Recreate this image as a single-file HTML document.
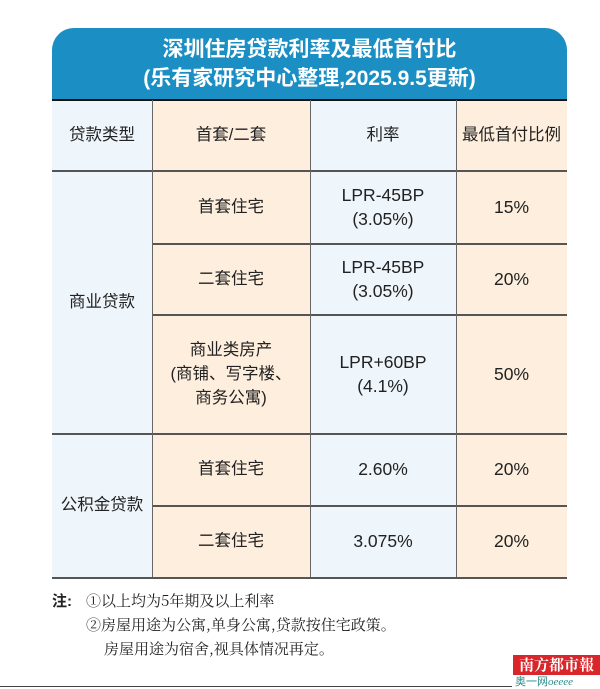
<!DOCTYPE html>
<html><head><meta charset="utf-8"><style>
body{margin:0;width:600px;height:689px;background:#fff;position:relative;overflow:hidden;font-family:"Liberation Sans","Noto Sans CJK SC",sans-serif;color:#222}
.hd{position:absolute;left:52px;top:28px;width:515px;height:72px;background:#1b8fc3;border-radius:22px 22px 0 0;color:#fff;text-align:center;font-weight:bold;font-size:21px;line-height:29px;padding-top:7px;box-sizing:border-box}
.c{position:absolute;display:flex;align-items:center;justify-content:center;text-align:center;font-size:16.5px;line-height:24px}
.b{background:#eef5fb}.p{background:#fdeedd}
.h{position:absolute;height:1.5px;background:#555}
.v{position:absolute;width:1px;background:#666;top:100px;height:477px}
.n{position:absolute;font-family:"Noto Serif CJK SC","Liberation Serif",serif;font-size:15px;color:#222}
.r{font-size:17.5px}
</style></head><body>
<div class="hd">深圳住房贷款利率及最低首付比<br>(乐有家研究中心整理,2025.9.5更新)</div>
<div class="c b" style="left:52px;top:100px;width:100px;height:477px"></div>
<div class="c p" style="left:152px;top:100px;width:158px;height:477px"></div>
<div class="c b" style="left:310px;top:100px;width:146px;height:477px"></div>
<div class="c p" style="left:456px;top:100px;width:111px;height:477px"></div>
<div class="h" style="left:52px;top:99px;width:515px;height:2px;background:#111"></div>
<div class="h" style="left:52px;top:170px;width:515px"></div>
<div class="h" style="left:152px;top:243px;width:415px"></div>
<div class="h" style="left:152px;top:314px;width:415px"></div>
<div class="h" style="left:52px;top:433px;width:515px"></div>
<div class="h" style="left:152px;top:505px;width:415px"></div>
<div class="h" style="left:52px;top:577px;width:515px"></div>
<div class="v" style="left:152px"></div><div class="v" style="left:310px"></div><div class="v" style="left:456px"></div>
<div class="c" style="left:52px;top:100px;width:100px;height:70px">贷款类型</div>
<div class="c" style="left:152px;top:100px;width:158px;height:70px">首套/二套</div>
<div class="c" style="left:310px;top:100px;width:146px;height:70px">利率</div>
<div class="c" style="left:456px;top:100px;width:111px;height:70px">最低首付比例</div>
<div class="c" style="left:52px;top:170px;width:100px;height:263px">商业贷款</div>
<div class="c" style="left:52px;top:433px;width:100px;height:144px">公积金贷款</div>
<div class="c" style="left:152px;top:170px;width:158px;height:73px">首套住宅</div>
<div class="c" style="left:152px;top:243px;width:158px;height:71px">二套住宅</div>
<div class="c" style="left:152px;top:314px;width:158px;height:119px">商业类房产<br>(商铺、写字楼、<br>商务公寓)</div>
<div class="c" style="left:152px;top:433px;width:158px;height:72px">首套住宅</div>
<div class="c" style="left:152px;top:505px;width:158px;height:72px">二套住宅</div>
<div class="c r" style="left:310px;top:170px;width:146px;height:73px">LPR-45BP<br>(3.05%)</div>
<div class="c r" style="left:310px;top:243px;width:146px;height:71px">LPR-45BP<br>(3.05%)</div>
<div class="c r" style="left:310px;top:314px;width:146px;height:119px">LPR+60BP<br>(4.1%)</div>
<div class="c r" style="left:310px;top:433px;width:146px;height:72px">2.60%</div>
<div class="c r" style="left:310px;top:505px;width:146px;height:72px">3.075%</div>
<div class="c r" style="left:456px;top:170px;width:111px;height:73px">15%</div>
<div class="c r" style="left:456px;top:243px;width:111px;height:71px">20%</div>
<div class="c r" style="left:456px;top:314px;width:111px;height:119px">50%</div>
<div class="c r" style="left:456px;top:433px;width:111px;height:72px">20%</div>
<div class="c r" style="left:456px;top:505px;width:111px;height:72px">20%</div>
<div class="n" style="left:52px;top:590px;font-family:'Liberation Sans','Noto Sans CJK SC',sans-serif;font-weight:bold">注:</div>
<div class="n" style="left:86px;top:590px">①以上均为5年期及以上利率</div>
<div class="n" style="left:86px;top:614px">②房屋用途为公寓,单身公寓,贷款按住宅政策。</div>
<div class="n" style="left:104px;top:638px">房屋用途为宿舍,视具体情况再定。</div>
<div style="position:absolute;left:513px;top:655px;width:87px;height:20px;background:#d9262b;color:#fff;font-size:15px;font-weight:bold;text-align:center;line-height:20px;font-family:'Noto Serif CJK SC',serif">南方都市報</div>
<div style="position:absolute;left:515px;top:676px;font-size:11px;color:#2a8a8a;line-height:13px">奥一网<i style="font-family:'Liberation Serif'">oeeee</i></div>
<div style="position:absolute;left:0;top:686px;width:512px;height:1px;background:#444"></div>
</body></html>
